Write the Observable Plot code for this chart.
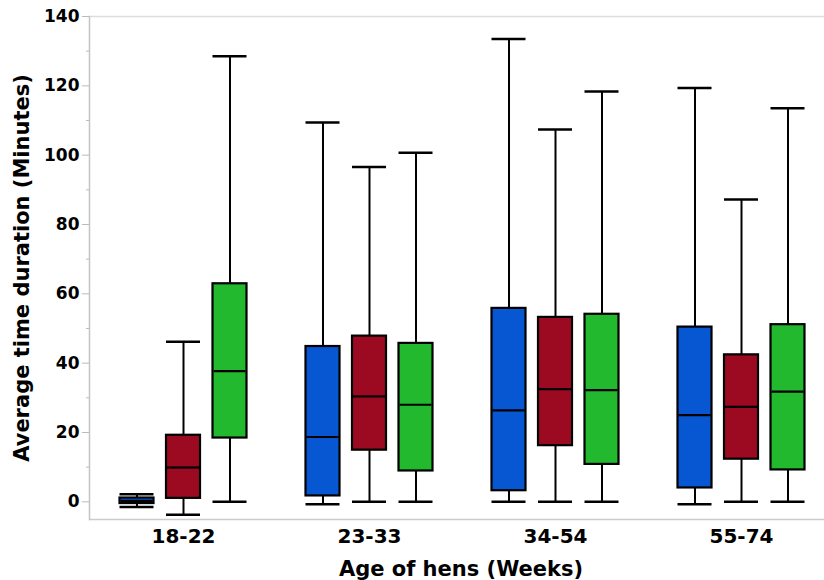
<!DOCTYPE html>
<html>
<head>
<meta charset="utf-8">
<script src="https://cdn.jsdelivr.net/npm/d3@7"></script>
<script src="https://cdn.jsdelivr.net/npm/@observablehq/plot@0.6"></script>
<style>
  html, body { margin: 0; padding: 0; background: white; }
  #chart { width: 824px; height: 580px; }
  #chart svg { font-family: "DejaVu Sans", Verdana, sans-serif; }
</style>
</head>
<body>
<div id="chart"></div>
<script>
// Age groups (x categories)
const ageGroups = ["18-22", "23-33", "34-54", "55-74"];
// Three series drawn side by side in each group
const seriesNames = ["Series 1", "Series 2", "Series 3"];
const seriesColors = ["#0757d3", "#9c0a22", "#22b92e"];

// Box-plot statistics, one array per series (values for each age group)
const whiskerLow = [
  [-1.5, -0.7, 0, -0.7],
  [-3.7, 0, 0, 0],
  [0, 0, 0, 0]
];
const quartile1 = [
  [-0.5, 1.7, 3.2, 4.0],
  [1.0, 14.9, 16.2, 12.3],
  [18.4, 8.9, 10.8, 9.2]
];
const medians = [
  [0.3, 18.7, 26.4, 25.0],
  [9.9, 30.4, 32.5, 27.4],
  [37.7, 28.0, 32.2, 31.8]
];
const quartile3 = [
  [1.1, 44.8, 55.8, 50.4],
  [19.2, 47.8, 53.2, 42.4],
  [62.9, 45.7, 54.1, 51.1]
];
const whiskerHigh = [
  [2.2, 109.4, 133.5, 119.4],
  [46.2, 96.6, 107.4, 87.2],
  [128.5, 100.7, 118.4, 113.5]
];

const majorTicks = [0, 20, 40, 60, 80, 100, 120, 140];
const minorTicks = [10, 30, 50, 70, 90, 110, 130];

// Build table
const rows = [];
seriesNames.forEach((s, si) => {
  ageGroups.forEach((g, gi) => {
    rows.push({
      group: g, series: s, si,
      low: whiskerLow[si][gi], q1: quartile1[si][gi], med: medians[si][gi],
      q3: quartile3[si][gi], high: whiskerHigh[si][gi]
    });
  });
});

const bandW = (834 - 90) / ageGroups.length;
const boxW = 34;
const inset = (bandW - boxW) / 2;
const offsets = [-46.5, 0, 46.5];

const marks = [];
seriesNames.forEach((s, si) => {
  const data = rows.filter(d => d.si === si);
  const dx = offsets[si];
  marks.push(
    Plot.ruleX(data, {x: "group", y1: "q3", y2: "high", dx, stroke: "black", strokeWidth: 2}),
    Plot.ruleX(data, {x: "group", y1: "low", y2: "q1", dx, stroke: "black", strokeWidth: 2}),
    Plot.tickY(data, {x: "group", y: "high", dx, insetLeft: inset, insetRight: inset, stroke: "black", strokeWidth: 2.5}),
    Plot.tickY(data, {x: "group", y: "low", dx, insetLeft: inset, insetRight: inset, stroke: "black", strokeWidth: 2.5}),
    Plot.barY(data, {x: "group", y1: "q1", y2: "q3", dx, insetLeft: inset, insetRight: inset,
      fill: seriesColors[si], stroke: "black", strokeWidth: 2.2}),
    Plot.tickY(data, {x: "group", y: "med", dx, insetLeft: inset + 1, insetRight: inset + 1, stroke: "black", strokeWidth: 2.2})
  );
});

const chart = Plot.plot({
  width: 824,
  height: 580,
  marginLeft: 89,
  marginRight: 0,
  marginTop: 16,
  marginBottom: 61,
  style: {fontFamily: "'DejaVu Sans', Verdana, sans-serif", background: "white"},
  x: {type: "band", domain: ageGroups, range: [90, 834], padding: 0, label: null},
  y: {domain: [-5.1, 140], label: null},
  marks: [
    Plot.ruleY([140], {stroke: "#dddddd", strokeWidth: 1.5}),
    Plot.ruleY([-5.1], {stroke: "#cccccc", strokeWidth: 1.5}),
    Plot.frame({anchor: "left", stroke: "#c4c4c4", strokeWidth: 1.5}),
    Plot.axisY({ticks: minorTicks, tickSize: 3, stroke: "#bbbbbb", text: null, label: null}),
    Plot.axisY({ticks: majorTicks, tickSize: 7, tickPadding: 3, stroke: "#bbbbbb", fill: "black",
      fontSize: 17, fontWeight: "bold", label: null}),
    Plot.axisX({tickSize: 0, tickPadding: 9, fill: "black", fontSize: 20, fontWeight: "bold", label: null}),
    Plot.text(["Age of hens (Weeks)"], {frameAnchor: "bottom", lineAnchor: "top", dy: 42, dx: 4,
      fontSize: 21, fontWeight: "bold", fill: "black"}),
    Plot.text(["Average time duration (Minutes)"], {frameAnchor: "left", dx: -67, rotate: -90,
      textAnchor: "middle", lineAnchor: "middle", fontSize: 21, fontWeight: "bold", fill: "black"}),
    ...marks
  ]
});
document.getElementById("chart").appendChild(chart);
</script>
</body>
</html>
